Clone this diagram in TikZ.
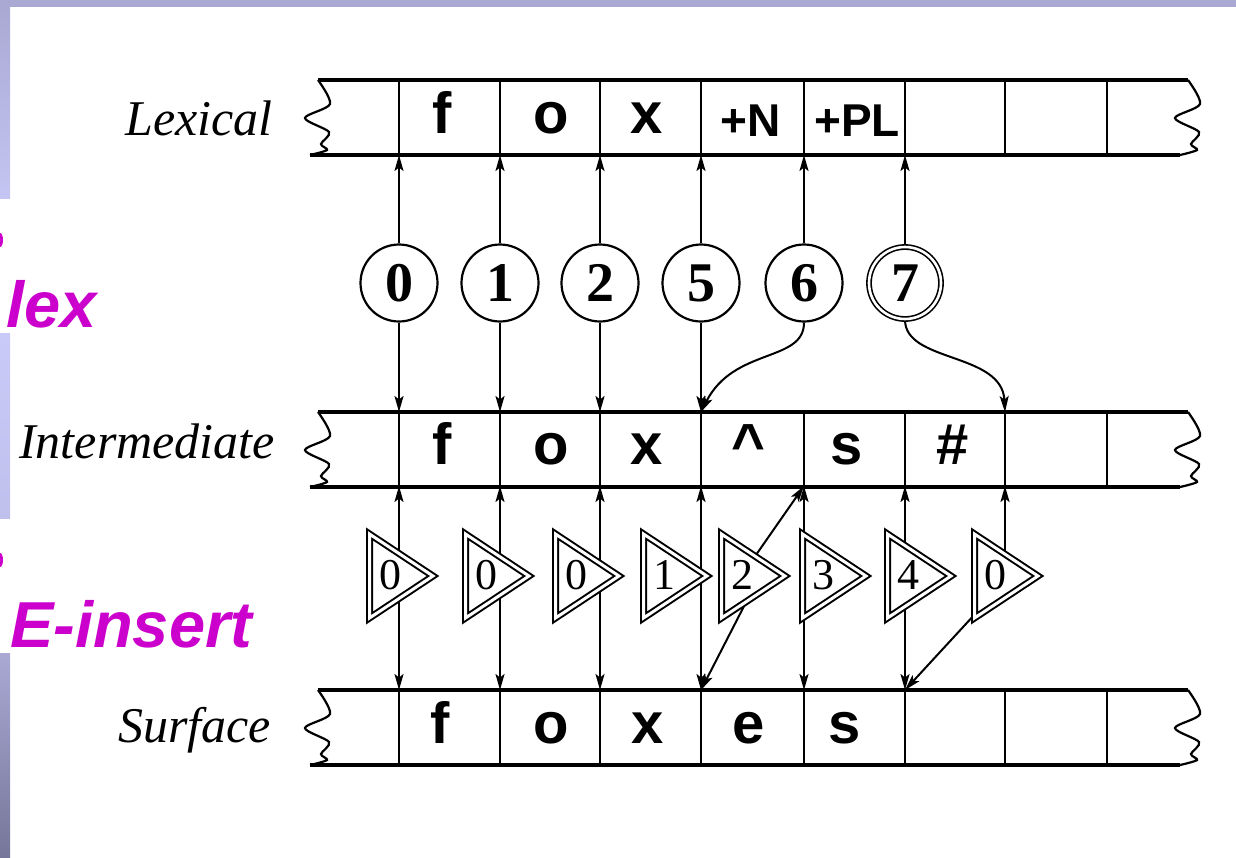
\documentclass[tikz,border=0pt]{standalone}
\usepackage{fontspec}
\setmainfont{Liberation Serif}
\setsansfont{Liberation Sans}
\usetikzlibrary{arrows.meta,backgrounds}
\definecolor{slidebar}{HTML}{A9A9D4}
\definecolor{slidelight}{HTML}{CACAF8}
\definecolor{slidedark}{HTML}{76769A}
\definecolor{notepink}{HTML}{CC00CC}
\tikzset{
  tape/.style={line width=3.8pt},
  cellline/.style={line width=2.8pt},
  wave/.style={line width=2.2pt},
  sym/.style={inner sep=0pt, anchor=base, font=\sffamily\bfseries\fontsize{58}{60}\selectfont},
  tag/.style={inner sep=0pt, anchor=base, font=\sffamily\bfseries\fontsize{46}{48}\selectfont},
  level/.style={inner sep=0pt, anchor=base east, font=\itshape\fontsize{50}{52}\selectfont},
  state/.style={circle, draw, fill=white, line width=2.2pt, minimum size=77pt,
    inner sep=0pt, font=\bfseries\fontsize{56}{58}\selectfont},
  final/.style={double, double distance=2.6pt, line width=1.6pt, minimum size=72pt},
  gate/.style={draw, fill=white, double, double distance=3pt, line width=2pt, line join=miter},
  gatenum/.style={inner sep=0pt, font=\fontsize{44}{46}\selectfont},
  note/.style={inner sep=0pt, anchor=base west, text=notepink,
    font=\sffamily\bfseries\itshape\fontsize{65}{67}\selectfont},
  link/.style={->, line width=2pt}
}
\begin{document}
\begin{tikzpicture}[x=1pt, y=-1pt, >={Stealth[length=16pt,width=9pt,inset=3.5pt]}]
  \useasboundingbox (0,0) rectangle (1236,857);
  \fill[slidebar] (0,0) rectangle (1236,7);
  \shade[top color=slidebar, bottom color=slidelight!85!slidebar] (0,7) rectangle (10,198);
  \shade[top color=slidelight, bottom color=slidelight!70!slidebar] (0,333) rectangle (10,518);
  \shade[top color=slidebar, bottom color=slidedark] (0,653) rectangle (10,857);
  \fill[notepink] (0,240) ellipse (3 and 7);
  \fill[notepink] (0,560) ellipse (3 and 7);
  \node[note] (lexnote) at (6,327) {lex};
  \node[note] (einsert) at (10,647) {E-insert};

  \foreach \y in {80,412,690} {
    \draw[tape] (318,\y) -- (1188,\y) (310,\y+75) -- (1180,\y+75);
    \foreach \x in {399,500,600,701,804,905,1005,1107}
      \draw[cellline] (\x,\y) -- (\x,\y+75);
    \foreach \e in {0,870}
      \draw[wave] plot[smooth] coordinates {(318+\e,\y) (330+\e,\y+24) (305+\e,\y+38)
        (329+\e,\y+52) (321+\e,\y+64) (327+\e,\y+70) (310+\e,\y+75)};
  }
  \foreach \x [count=\i] in {399,500,600,701,804,905,1005} {
    \coordinate (l\i) at (\x,155);
    \coordinate (mt\i) at (\x,412);
    \coordinate (mb\i) at (\x,486);
    \coordinate (s\i) at (\x,690);
  }

  \node[level] (lexical) at (273,135) {Lexical};
  \node[level] (intermediate) at (275,458) {Intermediate};
  \node[level] (surface) at (271,742) {Surface};

  \foreach \x/\lbl [count=\i] in {442/f,551/o,647/x}
    \node[sym] (lx\i) at (\x,133) {\lbl};
  \node[tag] (lx4) at (751,136) {+N};
  \node[tag] (lx5) at (857,136) {+PL};
  \foreach \x/\lbl [count=\i] in {442/f,551/o,647/x,748/\textasciicircum,847/s,953/\#}
    \node[sym] (in\i) at (\x,464) {\lbl};
  \foreach \x/\lbl [count=\i] in {440/f,551/o,648/x,749/e,845/s}
    \node[sym] (sf\i) at (\x,743) {\lbl};

  \foreach \x/\n in {399/0,500/1,600/2,701/5,804/6}
    \node[state] (c\n) at (\x,283) {\n};
  \node[state, final] (c7) at (905,283) {7};

  \foreach \x/\lbl [count=\i] in {366/0,462/0,552/0,640/1,718/2,799/3,884/4,971/0} {
    \draw[gate] (\x+3.5,534) -- (\x+67,576) -- (\x+3.5,618) -- cycle;
    \node[gatenum] (t\i) at (\x+24,575) {\lbl};
  }

  \begin{pgfonlayer}{background}
    \foreach \n/\i in {0/1,1/2,2/3,5/4} {
      \draw[link] (c\n) -- (l\i);
      \draw[link] (c\n) -- (mt\i);
    }
    \draw[link] (c6) -- (l5);
    \draw[link] (c6.south) .. controls +(0,40) and +(33,-65) .. (mt4);
    \draw[link] (c7) -- (l6);
    \draw[link] (c7.south) .. controls +(0,43) and +(-3,-60) .. (mt7);
    \foreach \gt/\i in {1/1,2/2,3/3,4/4,6/5,7/6} {
      \draw[link] (t\gt -| mb\i) -- (mb\i);
      \draw[link] (t\gt -| s\i) -- (s\i);
    }
    \draw[link] (t8 -| mb7) -- (mb7);
    \draw[link] (t5) -- (mb5);
    \draw[link] ([xshift=18pt]t5.center) -- (s4);
    \draw[link] ([xshift=16pt]t8.center) -- (s6);
  \end{pgfonlayer}
\end{tikzpicture}
\end{document}
